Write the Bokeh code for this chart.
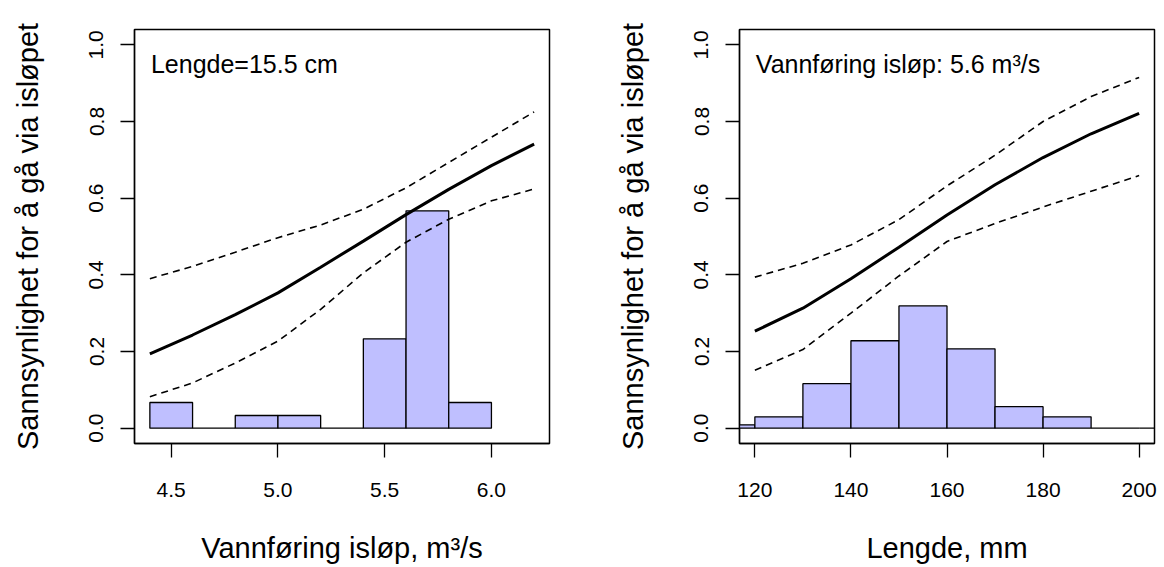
from bokeh.plotting import figure
from bokeh.layouts import row
from bokeh.models import Range1d, FixedTicker, Label, PrintfTickFormatter
from bokeh.embed import file_html
from bokeh.resources import INLINE

# ---------------- data ----------------
# left panel: discharge (m3/s)
q_bin_edges = [4.4, 4.6, 4.8, 5.0, 5.2, 5.4, 5.6, 5.8, 6.0]
q_hist = [0.067, 0.0, 0.033, 0.033, 0.0, 0.233, 0.567, 0.067]
q_x = [4.4, 4.6, 4.8, 5.0, 5.2, 5.4, 5.6, 5.8, 6.0, 6.2]
q_fit = [0.194, 0.243, 0.296, 0.353, 0.420, 0.488, 0.557, 0.623, 0.685, 0.741]
q_upper = [0.390, 0.422, 0.459, 0.497, 0.530, 0.571, 0.627, 0.693, 0.759, 0.825]
q_lower = [0.082, 0.118, 0.170, 0.227, 0.310, 0.405, 0.485, 0.545, 0.593, 0.624]
q_ticks = [4.5, 5.0, 5.5, 6.0]

# right panel: length (mm)
l_bin_edges = [110, 120, 130, 140, 150, 160, 170, 180, 190, 200, 210]
l_hist = [0.0087, 0.0295, 0.116, 0.228, 0.319, 0.207, 0.056, 0.0295, 0.0, 0.0]
l_x = [120, 130, 140, 150, 160, 170, 180, 190, 200]
l_fit = [0.253, 0.313, 0.390, 0.472, 0.556, 0.635, 0.706, 0.768, 0.821]
l_upper = [0.394, 0.430, 0.478, 0.544, 0.632, 0.712, 0.800, 0.865, 0.915]
l_lower = [0.151, 0.205, 0.300, 0.397, 0.487, 0.534, 0.577, 0.618, 0.659]
l_ticks = [120, 140, 160, 180, 200]

y_ticks = [0.0, 0.2, 0.4, 0.6, 0.8, 1.0]
y_title = "Sannsynlighet for å gå via isløpet"

FONT = "Liberation Sans"
HIST_FILL = "#bfbfff"


def panel(edges, hist, xs, fit, upper, lower, ticks, xfmt, xr, xtitle, note, note_x,
          border_left, border_right):
    p = figure(width=582, height=567, output_backend="svg", toolbar_location=None,
               x_range=Range1d(*xr), y_range=Range1d(-0.04, 1.04),
               min_border_left=border_left, min_border_right=border_right,
               min_border_top=29, min_border_bottom=124,
               background_fill_color="white", border_fill_color="white")
    p.xgrid.visible = False
    p.ygrid.visible = False
    p.outline_line_color = "black"
    p.outline_line_width = 1.5
    p.outline_line_alpha = 1.0

    p.quad(left=edges[:-1], right=edges[1:], bottom=0, top=hist,
           fill_color=HIST_FILL, line_color="black", line_width=1.3)
    p.line(xs, fit, line_color="black", line_width=3)
    p.line(xs, upper, line_color="black", line_width=1.6, line_dash="7 5")
    p.line(xs, lower, line_color="black", line_width=1.6, line_dash="7 5")

    for ax in (p.xaxis[0], p.yaxis[0]):
        ax.axis_line_color = "black"
        ax.axis_line_width = 1.3
        ax.major_tick_line_color = "black"
        ax.major_tick_line_width = 1.3
        ax.major_tick_in = 0
        ax.major_tick_out = 14
        ax.minor_tick_line_color = None
        ax.major_label_text_font = FONT
        ax.major_label_text_font_size = "21px"
        ax.major_label_text_color = "black"
        ax.axis_label_text_font = FONT
        ax.axis_label_text_font_size = "29px"
        ax.axis_label_text_font_style = "normal"
        ax.axis_label_text_color = "black"

    p.xaxis.ticker = FixedTicker(ticks=ticks)
    p.xaxis.formatter = PrintfTickFormatter(format=xfmt)
    p.xaxis.major_label_standoff = 25
    p.xaxis.axis_label = xtitle
    p.xaxis.axis_label_standoff = 32

    p.yaxis.ticker = FixedTicker(ticks=y_ticks)
    p.yaxis.formatter = PrintfTickFormatter(format="%.1f")
    p.yaxis.major_label_orientation = "parallel"
    p.yaxis.major_label_standoff = 17
    p.yaxis.axis_label = y_title
    p.yaxis.axis_label_standoff = 43

    p.add_layout(Label(x=note_x, y=0.951, text=note, text_font=FONT,
                       text_font_size="25px", text_color="black",
                       text_baseline="alphabetic", text_align="left"))
    return p


p1 = panel(q_bin_edges, q_hist, q_x, q_fit, q_upper, q_lower, q_ticks, "%.1f",
           (4.328, 6.272), "Vannføring isløp, m³/s", "Lengde=15.5 cm", 4.405, 134, 33)
p2 = panel(l_bin_edges, l_hist, l_x, l_fit, l_upper, l_lower, l_ticks, "%d",
           (116.8, 203.2), "Lengde, mm", "Vannføring isløp: 5.6 m³/s", 120.2, 157, 10)

layout = row(p1, p2)
open("out.html", "w").write(file_html(layout, INLINE))
